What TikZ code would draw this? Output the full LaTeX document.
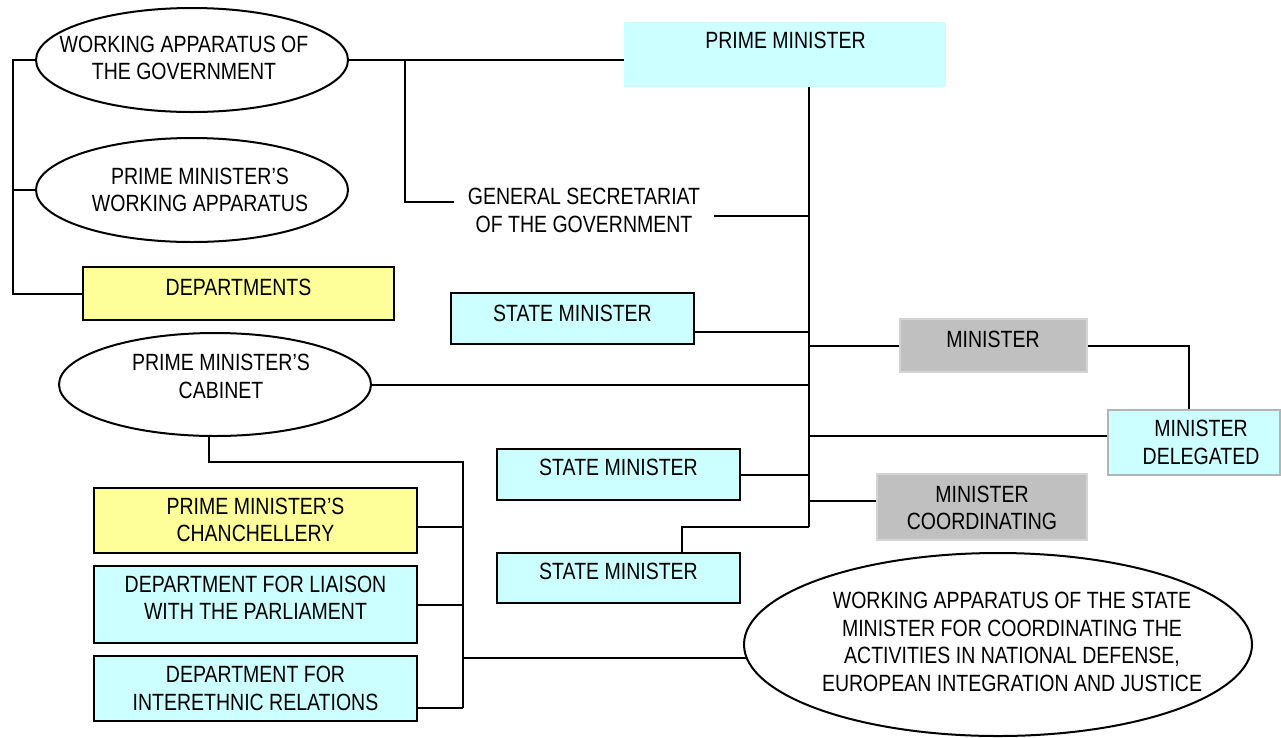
\documentclass[tikz,border=0pt]{standalone}
\usepackage{fontspec}
\setmainfont{Liberation Sans}[FakeStretch=0.83]
\usetikzlibrary{shapes.geometric,calc}
\definecolor{paleCyan}{HTML}{CCFFFF}
\definecolor{paleYellow}{HTML}{FFFF99}
\definecolor{midGray}{HTML}{C0C0C0}
\definecolor{edgeGray}{HTML}{D4D4D4}
\definecolor{frameGray}{HTML}{B4B4B4}
\tikzset{
  txt/.style={inner sep=0pt, font=\fontsize{23.5}{27.5}\selectfont, text=black},
  txtml/.style={txt, align=center, anchor=north},
  txtone/.style={txt, anchor=base},
  wire/.style={line width=2pt, black},
  oval/.style={ellipse, draw=black, line width=2pt, fill=white, inner sep=0pt},
  plainbox/.style={rectangle, draw=black, line width=2.2pt, inner sep=0pt},
  cyanbox/.style={plainbox, fill=paleCyan},
  yellowbox/.style={plainbox, fill=paleYellow},
  graybox/.style={rectangle, fill=midGray, draw=edgeGray, line width=1.2pt, inner sep=0pt},
  headbox/.style={rectangle, fill=paleCyan, inner sep=0pt},
  delegbox/.style={rectangle, fill=paleCyan, draw=frameGray, line width=1.6pt, inner sep=0pt}
}
\begin{document}
\begin{tikzpicture}[x=1pt,y=-1pt]
\useasboundingbox[fill=white] (0,0) rectangle (1281,737);

% ---------- shapes ----------
\node[oval, minimum width=312pt, minimum height=104pt] (wa1) at (192,60) {};
\node[oval, minimum width=312pt, minimum height=104pt] (wa2) at (192,190) {};
\node[yellowbox, minimum width=311pt, minimum height=53pt] (dep) at (238.5,293.5) {};
\node[headbox, minimum width=322pt, minimum height=65pt] (pm) at (785,54.5) {};
\node[cyanbox, minimum width=243pt, minimum height=51pt] (sm1) at (572.5,318.5) {};
\node[graybox, minimum width=187pt, minimum height=53pt] (min) at (993.5,345.5) {};
\node[oval, minimum width=312pt, minimum height=103pt] (cab) at (215,384.5) {};
\node[delegbox, minimum width=172pt, minimum height=65pt] (del) at (1194,442.5) {};
\node[cyanbox, minimum width=243pt, minimum height=51pt] (sm2) at (618.5,474.5) {};
\node[graybox, minimum width=210pt, minimum height=66pt] (coord) at (982,507) {};
\node[cyanbox, minimum width=243pt, minimum height=50pt] (sm3) at (618.5,578) {};
\node[yellowbox, minimum width=323pt, minimum height=65pt] (chan) at (255.5,520.5) {};
\node[cyanbox, minimum width=323pt, minimum height=77pt] (lia) at (255.5,604.5) {};
\node[cyanbox, minimum width=323pt, minimum height=65pt] (inter) at (255.5,688.5) {};
\node[oval, minimum width=508pt, minimum height=183pt] (wa4) at (998,644.5) {};

% ---------- texts ----------
\node[txtml] (wa1t) at (184,35.7) {WORKING APPARATUS OF\\THE GOVERNMENT};
\node[txtml] (wa2t) at (200,167.7) {PRIME MINISTER’S\\WORKING APPARATUS};
\node[txtone] (dept) at (238.5,295) {DEPARTMENTS};
\node[txtone] (pmt) at (785.5,48) {PRIME MINISTER};
\node[txtml, inner xsep=14pt] (sec) at (584,188.2) {GENERAL SECRETARIAT\\OF THE GOVERNMENT};
\node[txtone] (sm1t) at (572.5,321) {STATE MINISTER};
\node[txtone] (mint) at (993,347) {MINISTER};
\node[txtml] (cabt) at (221,354.2) {PRIME MINISTER’S\\CABINET};
\node[txtml] (delt) at (1201,420.2) {MINISTER\\DELEGATED};
\node[txtone] (sm2t) at (618.5,475) {STATE MINISTER};
\node[txtml] (coordt) at (982,485.7) {MINISTER\\COORDINATING};
\node[txtone] (sm3t) at (618.5,579) {STATE MINISTER};
\node[txtml] (chant) at (255.5,497.7) {PRIME MINISTER’S\\CHANCHELLERY};
\node[txtml] (liat) at (255.5,575.7) {DEPARTMENT FOR LIAISON\\WITH THE PARLIAMENT};
\node[txtml] (intert) at (255.5,666.2) {DEPARTMENT FOR\\INTERETHNIC RELATIONS};
\node[txtml] (wa4t) at (1012,592.2) {WORKING APPARATUS OF THE STATE\\MINISTER FOR COORDINATING THE\\ACTIVITIES IN NATIONAL DEFENSE,\\EUROPEAN INTEGRATION AND JUSTICE};

% ---------- junction points ----------
\coordinate (lb) at (13,60);
\coordinate (sj) at (405,60);
\coordinate (st) at ([xshift=24pt]pm.south);
\coordinate (sb) at (809,527);
\coordinate (cbt) at (463,462);
\coordinate (cbb) at (463,708);

% ---------- connectors ----------
% left bracket of the government apparatus
\draw[wire] (wa1.west) -- (lb) |- (dep.west);
\draw[wire] (wa2.west) -- (wa2.west -| lb);
% prime minister to the government apparatus and secretariat
\draw[wire] (wa1.east) -- (wa1.east -| pm.west);
\draw[wire] (sj) |- ($(sec.west)+(0,-8.35)$);
% main spine
\draw[wire] (st) -- (sb);
\draw[wire] ($(sec.east)+(0,5.65)$) coordinate (secr) -- (secr -| st);
\draw[wire] ($(sm1.east)+(0,13.5)$) coordinate (sm1r) -- (sm1r -| st);
\draw[wire] (min.west) -- (min.west -| st);
\draw[wire] (min.east) -| ([xshift=-5pt]del.north);
\draw[wire] (cab.east) -- (cab.east -| st);
\draw[wire] ($(del.west)+(0,-6.5)$) coordinate (dell) -- (dell -| st);
\draw[wire] (sm2.east) -- (sm2.east -| st);
\draw[wire] ($(coord.west)+(0,-6)$) coordinate (coordl) -- (coordl -| st);
\draw[wire] ([xshift=63.5pt]sm3.north) |- (sb);
% cabinet bracket
\draw[wire] ([xshift=-6pt]cab.south) |- (cbt) -- (cbb);
\draw[wire] ($(chan.east)+(0,6.5)$) coordinate (chanr) -- (chanr -| cbt);
\draw[wire] (lia.east) -- (lia.east -| cbt);
\draw[wire] ($(inter.east)+(0,19.5)$) -- (cbb);
\draw[wire] (wa4.183) -- (wa4.183 -| cbt);
\end{tikzpicture}
\end{document}
